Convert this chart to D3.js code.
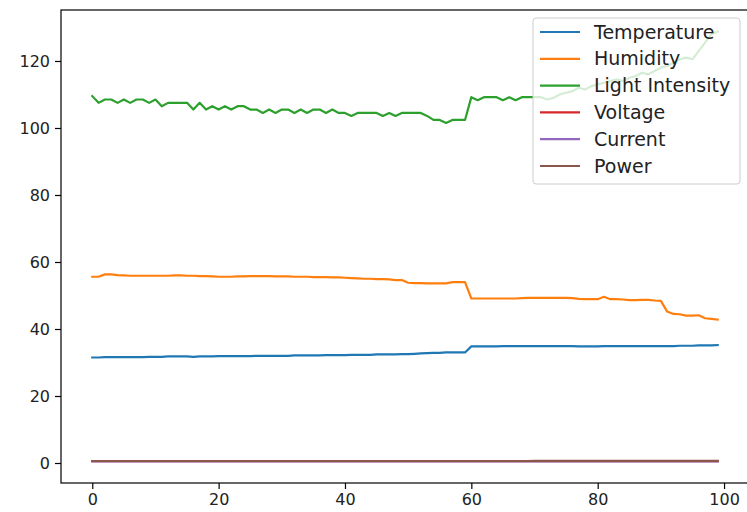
<!DOCTYPE html>
<html>
<head>
<meta charset="utf-8">
<script src="https://cdn.jsdelivr.net/npm/d3@7"></script>
<style>
  body { margin: 0; background: #fff; }
  text { font-family: "DejaVu Sans", sans-serif; }
</style>
</head>
<body>
<div id="chart"></div>
<script>
// series names and colours (matplotlib tab10)
var seriesNames = ["Temperature", "Humidity", "Light Intensity", "Voltage", "Current", "Power"];
var seriesColors = ["#1f77b4", "#ff7f0e", "#2ca02c", "#d62728", "#9467bd", "#8c564b"];

var xTicks = [0, 20, 40, 60, 80, 100];
var yTicks = [0, 20, 40, 60, 80, 100, 120];

var temperature = [
  31.5, 31.5, 31.6, 31.6, 31.6, 31.6, 31.6, 31.6, 31.6, 31.7,
  31.7, 31.7, 31.8, 31.8, 31.8, 31.8, 31.7, 31.8, 31.8, 31.8,
  31.9, 31.9, 31.9, 31.9, 31.9, 31.9, 32.0, 32.0, 32.0, 32.0,
  32.0, 32.0, 32.1, 32.1, 32.1, 32.1, 32.1, 32.2, 32.2, 32.2,
  32.2, 32.3, 32.3, 32.3, 32.3, 32.4, 32.4, 32.4, 32.4, 32.5,
  32.5, 32.6, 32.7, 32.8, 32.9, 32.9, 33.0, 33.0, 33.0, 33.0,
  34.8, 34.8, 34.8, 34.8, 34.8, 34.9, 34.9, 34.9, 34.9, 34.9,
  34.9, 34.9, 34.9, 34.9, 34.9, 34.9, 34.9, 34.8, 34.8, 34.8,
  34.8, 34.9, 34.9, 34.9, 34.9, 34.9, 34.9, 34.9, 34.9, 34.9,
  34.9, 34.9, 34.9, 35.0, 35.0, 35.0, 35.1, 35.1, 35.1, 35.2
];

var humidity = [
  55.6, 55.6, 56.3, 56.3, 56.1, 56.0, 55.9, 55.9, 55.9, 55.9,
  55.9, 55.9, 55.9, 56.0, 56.0, 55.9, 55.9, 55.8, 55.8, 55.7,
  55.6, 55.6, 55.6, 55.7, 55.7, 55.8, 55.8, 55.8, 55.8, 55.7,
  55.7, 55.7, 55.6, 55.6, 55.6, 55.5, 55.5, 55.5, 55.4, 55.4,
  55.3, 55.2, 55.1, 55.0, 55.0, 54.9, 54.9, 54.8, 54.6, 54.6,
  53.8, 53.7, 53.7, 53.6, 53.6, 53.6, 53.6, 54.0, 54.0, 54.0,
  49.1, 49.1, 49.1, 49.1, 49.1, 49.1, 49.1, 49.1, 49.2, 49.3,
  49.3, 49.3, 49.3, 49.3, 49.3, 49.3, 49.2, 49.0, 48.9, 48.9,
  48.9, 49.6, 48.9, 48.9, 48.8, 48.6, 48.6, 48.7, 48.7, 48.5,
  48.4, 45.2, 44.5, 44.4, 44.0, 44.0, 44.1, 43.2, 43.0, 42.8
];

var lightIntensity = [
  109.5, 107.5, 108.5, 108.5, 107.5, 108.5, 107.5, 108.5, 108.5, 107.5,
  108.5, 106.5, 107.5, 107.5, 107.5, 107.5, 105.5, 107.5, 105.5, 106.5,
  105.5, 106.5, 105.5, 106.5, 106.5, 105.5, 105.5, 104.5, 105.5, 104.5,
  105.5, 105.5, 104.5, 105.5, 104.5, 105.5, 105.5, 104.5, 105.5, 104.5,
  104.5, 103.6, 104.5, 104.5, 104.5, 104.5, 103.6, 104.5, 103.6, 104.5,
  104.5, 104.5, 104.5, 103.6, 102.4, 102.4, 101.5, 102.4, 102.4, 102.4,
  109.2, 108.3, 109.2, 109.2, 109.2, 108.3, 109.2, 108.3, 109.2, 109.2,
  109.2, 109.2, 108.5, 109.0, 110.0, 110.5, 111.0, 112.0, 111.5, 112.5,
  113.0, 113.5, 114.0, 114.5, 114.0, 115.0, 115.5, 116.5, 116.0, 117.0,
  118.0, 118.5, 119.5, 120.5, 121.0, 120.5, 123.0, 125.5, 128.0, 128.8
];

var voltage = [
  0.52, 0.52, 0.52, 0.52, 0.52, 0.52, 0.52, 0.52, 0.52, 0.52,
  0.52, 0.52, 0.52, 0.52, 0.52, 0.52, 0.52, 0.52, 0.52, 0.52,
  0.52, 0.52, 0.52, 0.52, 0.52, 0.52, 0.52, 0.52, 0.52, 0.52,
  0.52, 0.52, 0.52, 0.52, 0.52, 0.52, 0.52, 0.52, 0.52, 0.52,
  0.52, 0.52, 0.52, 0.52, 0.52, 0.52, 0.52, 0.52, 0.52, 0.52,
  0.52, 0.52, 0.52, 0.52, 0.52, 0.52, 0.52, 0.52, 0.52, 0.52,
  0.52, 0.52, 0.52, 0.52, 0.52, 0.52, 0.52, 0.52, 0.52, 0.52,
  0.52, 0.52, 0.52, 0.52, 0.52, 0.52, 0.52, 0.52, 0.52, 0.52,
  0.52, 0.52, 0.52, 0.52, 0.52, 0.52, 0.52, 0.52, 0.52, 0.52,
  0.52, 0.52, 0.52, 0.52, 0.52, 0.52, 0.52, 0.52, 0.52, 0.52
];

var current = [
  0.45, 0.45, 0.45, 0.45, 0.45, 0.45, 0.45, 0.45, 0.45, 0.45,
  0.45, 0.45, 0.45, 0.45, 0.45, 0.45, 0.45, 0.45, 0.45, 0.45,
  0.45, 0.45, 0.45, 0.45, 0.45, 0.45, 0.45, 0.45, 0.45, 0.45,
  0.45, 0.45, 0.45, 0.45, 0.45, 0.45, 0.45, 0.45, 0.45, 0.45,
  0.45, 0.45, 0.45, 0.45, 0.45, 0.45, 0.45, 0.45, 0.45, 0.45,
  0.45, 0.45, 0.45, 0.45, 0.45, 0.45, 0.45, 0.45, 0.45, 0.45,
  0.45, 0.45, 0.45, 0.45, 0.45, 0.45, 0.45, 0.45, 0.45, 0.45,
  0.45, 0.45, 0.45, 0.45, 0.45, 0.45, 0.45, 0.45, 0.45, 0.45,
  0.45, 0.45, 0.45, 0.45, 0.45, 0.45, 0.45, 0.45, 0.45, 0.45,
  0.45, 0.45, 0.45, 0.45, 0.45, 0.45, 0.45, 0.45, 0.45, 0.45
];

var power = [
  0.60, 0.60, 0.60, 0.60, 0.60, 0.60, 0.60, 0.60, 0.60, 0.60,
  0.60, 0.60, 0.60, 0.60, 0.60, 0.60, 0.60, 0.60, 0.60, 0.60,
  0.60, 0.60, 0.60, 0.60, 0.60, 0.60, 0.60, 0.60, 0.60, 0.60,
  0.60, 0.60, 0.60, 0.60, 0.60, 0.60, 0.60, 0.60, 0.60, 0.60,
  0.60, 0.60, 0.60, 0.60, 0.60, 0.60, 0.60, 0.60, 0.60, 0.60,
  0.60, 0.60, 0.60, 0.60, 0.60, 0.60, 0.60, 0.60, 0.60, 0.60,
  0.60, 0.60, 0.60, 0.60, 0.60, 0.60, 0.60, 0.60, 0.60, 0.60,
  0.61, 0.61, 0.61, 0.61, 0.61, 0.61, 0.61, 0.61, 0.61, 0.61,
  0.61, 0.61, 0.61, 0.61, 0.61, 0.61, 0.61, 0.61, 0.61, 0.61,
  0.62, 0.62, 0.62, 0.62, 0.62, 0.62, 0.62, 0.62, 0.62, 0.62
];

var allSeries = [temperature, humidity, lightIntensity, voltage, current, power];

// layout
var W = 747, H = 512;
var margin = { top: 10, left: 61 };
var plotW = 688, plotH = 473;

var svg = d3.select("#chart").append("svg")
  .attr("width", W)
  .attr("height", H);

var g = svg.append("g")
  .attr("transform", "translate(" + margin.left + "," + margin.top + ")");

// matplotlib-like 5% margins
var n = temperature.length;
var xPad = (n - 1) * 0.05;
var yMin = d3.min(allSeries, function(s) { return d3.min(s); });
var yMax = d3.max(allSeries, function(s) { return d3.max(s); });
var yPad = (yMax - yMin) * 0.05;

var x = d3.scaleLinear().domain([-xPad, n - 1 + xPad]).range([0, plotW]);
var y = d3.scaleLinear().domain([yMin - yPad, yMax + yPad]).range([plotH, 0]);

var line = d3.line()
  .x(function(d, i) { return x(i); })
  .y(function(d) { return y(d); });

g.selectAll(".series")
  .data(allSeries)
  .enter().append("path")
  .attr("class", "series")
  .attr("fill", "none")
  .attr("stroke", function(d, i) { return seriesColors[i]; })
  .attr("stroke-width", 2.2)
  .attr("stroke-linejoin", "round")
  .attr("stroke-linecap", "square")
  .attr("d", line);

// axes
var xAxis = g.append("g")
  .attr("transform", "translate(0," + plotH + ")")
  .call(d3.axisBottom(x).tickValues(xTicks).tickSize(6).tickPadding(5));

var yAxis = g.append("g")
  .call(d3.axisLeft(y).tickValues(yTicks).tickSize(6).tickPadding(5));

[xAxis, yAxis].forEach(function(ax) {
  ax.select(".domain").remove();
  ax.selectAll("line").attr("stroke", "#000").attr("stroke-width", 1.2);
  ax.selectAll("text")
    .attr("fill", "#222")
    .style("font-family", "DejaVu Sans")
    .style("font-size", "16px");
});

// spines
g.append("rect")
  .attr("x", 0).attr("y", 0)
  .attr("width", plotW).attr("height", plotH)
  .attr("fill", "none")
  .attr("stroke", "#000")
  .attr("stroke-width", 1.2);

// legend
var legend = g.append("g")
  .attr("transform", "translate(" + (533 - margin.left) + "," + (18 - margin.top) + ")");

legend.append("rect")
  .attr("width", 207)
  .attr("height", 166)
  .attr("rx", 3)
  .attr("fill", "#fff")
  .attr("fill-opacity", 0.8)
  .attr("stroke", "#cccccc")
  .attr("stroke-width", 1);

var item = legend.selectAll(".item")
  .data(seriesNames)
  .enter().append("g")
  .attr("class", "item")
  .attr("transform", function(d, i) { return "translate(0," + (14 + i * 26.8) + ")"; });

item.append("line")
  .attr("x1", 7).attr("x2", 47)
  .attr("stroke", function(d, i) { return seriesColors[i]; })
  .attr("stroke-width", 2.2);

item.append("text")
  .attr("x", 61)
  .attr("dy", "0.35em")
  .attr("fill", "#222")
  .style("font-size", "19px")
  .text(function(d) { return d; });
</script>
</body>
</html>
